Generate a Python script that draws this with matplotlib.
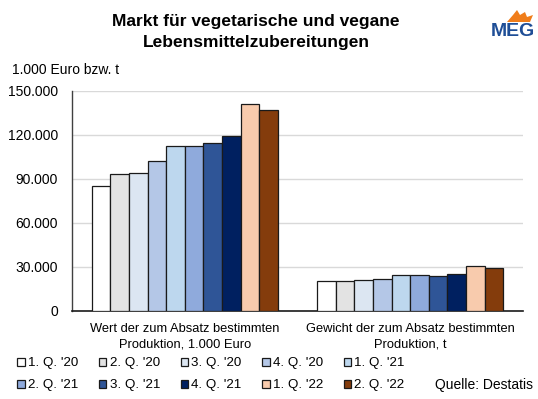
import matplotlib
matplotlib.use('Agg')
import matplotlib.pyplot as plt
from matplotlib.ticker import FuncFormatter
from matplotlib.patches import Polygon
import numpy as np

plt.rcParams['font.family'] = ['Liberation Sans', 'DejaVu Sans']

# Data
categories = ['Wert der zum Absatz bestimmten\nProduktion, 1.000 Euro',
              'Gewicht der zum Absatz bestimmten\nProduktion, t']
quarters = ["1. Q. '20", "2. Q. '20", "3. Q. '20", "4. Q. '20", "1. Q. '21",
            "2. Q. '21", "3. Q. '21", "4. Q. '21", "1. Q. '22", "2. Q. '22"]
wert = [85200, 93400, 94300, 102000, 112500, 112500, 114300, 119500, 140900, 137000]
gewicht = [20400, 20300, 20900, 22000, 24300, 24300, 24100, 25200, 30500, 29500]
colors = ['#FFFFFF', '#E3E3E3', '#DCE6F2', '#B4C7E7', '#BDD7EE',
          '#8FAADC', '#2F5597', '#002060', '#F8CBAD', '#843C0C']

fig = plt.figure(figsize=(5.38, 3.99), dpi=100)
ax = fig.add_axes([72 / 538, 1 - 311 / 399, 451 / 538, 220 / 399])

n = len(quarters)
group_w = 0.825
bw = group_w / n
x = np.arange(len(categories))
handles = []
for i in range(n):
    vals = [wert[i], gewicht[i]]
    pos = x - group_w / 2 + bw * (i + 0.5)
    b = ax.bar(pos, vals, width=bw, color=colors[i], edgecolor='#1a1a1a',
               linewidth=0.9, label=quarters[i], zorder=3)
    handles.append(b)

ax.set_xlim(-0.5, 1.5)
ax.set_ylim(0, 150000)
ax.set_yticks(np.arange(0, 150001, 30000))
ax.yaxis.set_major_formatter(FuncFormatter(lambda v, p: f'{int(v):,}'.replace(',', '.')))
ax.set_xticks(x)
ax.set_xticklabels(categories, fontsize=9.3, linespacing=1.35)
ax.tick_params(axis='y', length=0, labelsize=10, pad=10)
ax.tick_params(axis='x', length=0, pad=9)
ax.grid(axis='y', color='#D9D9D9', linewidth=1, zorder=0)
for s in ['top', 'right']:
    ax.spines[s].set_visible(False)
ax.spines['left'].set_color('#404040')
ax.spines['bottom'].set_color('#1a1a1a')
ax.spines['left'].set_linewidth(1)
ax.spines['bottom'].set_linewidth(1.2)

fig.text(256 / 538, 1 - 32 / 399, 'Markt für vegetarische und vegane\nLebensmittelzubereitungen',
         ha='center', va='center', fontsize=12.5, fontweight='bold', linespacing=1.45)
fig.text(12 / 538, 1 - 70 / 399, '1.000 Euro bzw. t', ha='left', va='center', fontsize=10)

# logo
fig.text(513 / 538, 1 - 31 / 399, 'MEG', ha='center', va='center', fontsize=14,
         fontweight='bold', color='#1F4E96')
flame = Polygon([[507 / 538, 1 - 22 / 399], [513 / 538, 1 - 15 / 399], [517 / 538, 1 - 10 / 399],
                 [520 / 538, 1 - 15 / 399], [525 / 538, 1 - 12 / 399], [527 / 538, 1 - 17 / 399],
                 [533 / 538, 1 - 15 / 399], [530 / 538, 1 - 22 / 399]],
                closed=True, transform=fig.transFigure, color='#F07D1A', lw=0)
fig.patches.append(flame)

order = [0, 5, 1, 6, 2, 7, 3, 8, 4, 9]
fig.legend([handles[i] for i in order], [quarters[i] for i in order],
           ncol=5, loc='upper left', bbox_to_anchor=(12 / 538, 1 - 352 / 399),
           frameon=False, fontsize=9.6, handlelength=0.55, handleheight=0.55,
           handletextpad=0.25, columnspacing=1.55, labelspacing=0.75, borderaxespad=0)
fig.text(533 / 538, 1 - 385 / 399, 'Quelle: Destatis', ha='right', va='center', fontsize=10)

fig.savefig('out.png', dpi=100, facecolor='white')
